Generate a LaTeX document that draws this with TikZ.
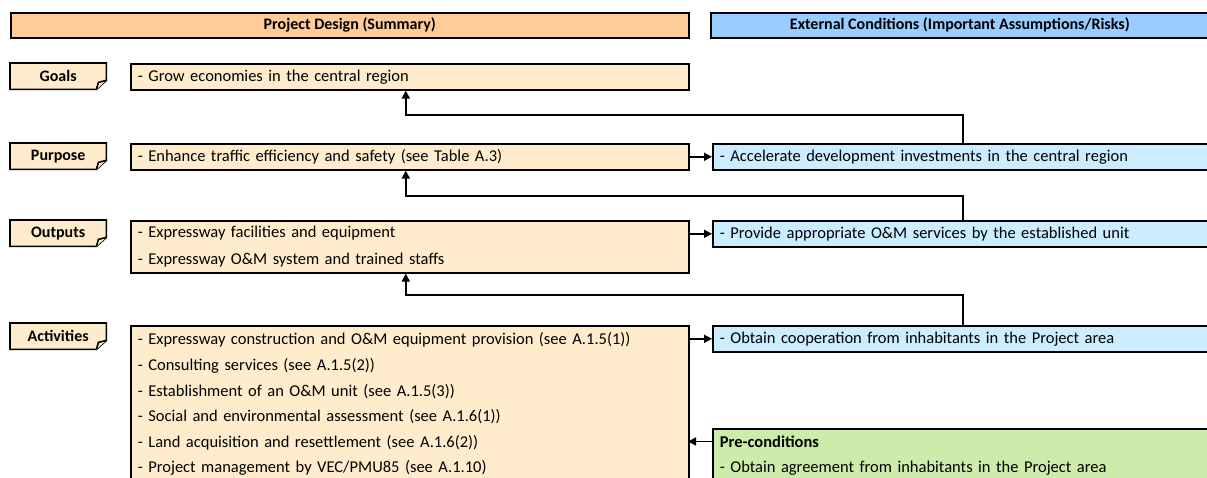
\documentclass[tikz,border=0pt]{standalone}
\usepackage{fontspec}
\setmainfont{Carlito}
\usetikzlibrary{arrows.meta,backgrounds}
\definecolor{headtan}{RGB}{255,204,153}
\definecolor{boxtan}{RGB}{255,236,204}
\definecolor{headblue}{RGB}{153,204,255}
\definecolor{boxblue}{RGB}{204,236,255}
\definecolor{boxgreen}{RGB}{205,235,170}
\tikzset{
	cell/.style = {draw=black, line width=1.6pt, anchor=north west, inner xsep=7pt, align=left, font=\fontsize{16.5}{25.6}\selectfont},
	design/.style = {cell, fill=boxtan, text width=544pt, minimum height=26pt},
	ext/.style = {cell, fill=boxblue, text width=486pt, minimum height=26pt},
	head/.style = {cell, inner sep=0pt, minimum height=25pt, align=center, font=\fontsize{16}{18}\selectfont\bfseries},
	tag/.style = {anchor=north west, inner sep=0pt, minimum width=96pt, minimum height=26pt, font=\fontsize{16}{18}\selectfont\bfseries},
	tagline/.style = {draw=black, line width=1.6pt, fill=boxtan},
	flow/.style = {line width=1.5pt, -{Triangle[length=8pt,width=8pt]}}
}

\begin{document}
\begin{tikzpicture}[x=1pt, y=-1pt]
	\useasboundingbox (0,0) rectangle (1207,477);
	\clip (0,0) rectangle (1207,477);

	% column heads
	\node [head, fill=headtan, minimum width=678pt] (dhead) at (10,12) {Project Design (Summary)};
	\node [head, fill=headblue, minimum width=498pt] (ehead) at (710,12) {External Conditions (Important Assumptions/Risks)};

	% row tags
	\node [tag] (gl) at (10,63) {Goals};
	\node [tag] (pl) at (10,143) {Purpose};
	\node [tag] (ol) at (10,220) {Outputs};
	\node [tag] (al) at (10,323) {Activities};

	% project design
	\node [design] (goal) at (130,63) {- Grow economies in the central region};
	\node [design] (purpose) at (130,143) {- Enhance traffic efficiency and safety (see Table A.3)};
	\node [design, minimum height=52pt, font=\fontsize{16.5}{26.7}\selectfont] (outputs) at (130,220) {- Expressway facilities and equipment\\- Expressway O\&M system and trained staffs};
	\node [design, inner ysep=7pt] (act) at (130,325) {- Expressway construction and O\&M equipment provision (see A.1.5(1))\\
		- Consulting services (see A.1.5(2))\\
		- Establishment of an O\&M unit (see A.1.5(3))\\
		- Social and environmental assessment (see A.1.6(1))\\
		- Land acquisition and resettlement (see A.1.6(2))\\
		- Project management by VEC/PMU85 (see A.1.10)};

	% external conditions
	\node [ext] (pext) at (712,143) {- Accelerate development investments in the central region};
	\node [ext] (oext) at (712,220) {- Provide appropriate O\&M services by the established unit};
	\node [ext] (aext) at (712,325) {- Obtain cooperation from inhabitants in the Project area};
	\node [ext, fill=boxgreen, inner ysep=7pt, font=\fontsize{16.5}{25}\selectfont] (precond) at (712,428) {\textbf{Pre-conditions}\\- Obtain agreement from inhabitants in the Project area};

	% folded tags
	\begin{scope}[on background layer]
		\foreach \n in {gl,pl,ol,al} {
			\filldraw [tagline] (\n.north west) -- (\n.north east) -- ([yshift=9pt]\n.south east)
				-- ([xshift=-10pt]\n.south east) -- (\n.south west) -- cycle;
			\draw [tagline] ([yshift=9pt]\n.south east) -- ([xshift=-8pt,yshift=7pt]\n.south east) -- ([xshift=-10pt]\n.south east);
		}
	\end{scope}

	% links
	\draw [flow] (purpose.east) -- (pext.west);
	\draw [flow] (outputs.east |- oext.west) -- (oext.west);
	\draw [flow] (act.east |- aext.west) -- (aext.west);
	\draw [flow] ([yshift=-13.5pt]precond.north west) -- ++(-24,0);
	\draw [flow] (pext.north) -- ++(0,-28) -| ([xshift=-4pt]goal.south);
	\draw [flow] (oext.north) -- ++(0,-24) -| ([xshift=-4pt]purpose.south);
	\draw [flow] (aext.north) -- ++(0,-30) -| ([xshift=-4pt]outputs.south);
\end{tikzpicture}
\end{document}
